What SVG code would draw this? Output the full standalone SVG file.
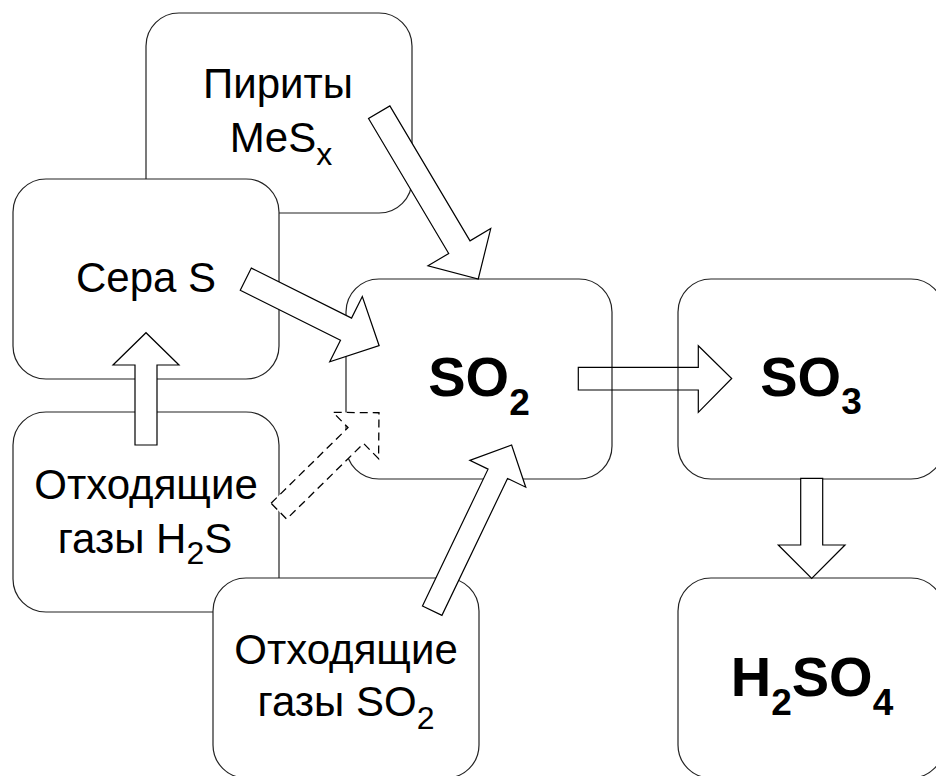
<svg xmlns="http://www.w3.org/2000/svg" width="936" height="776" viewBox="0 0 936 776">
<style>
.box{fill:#fff;stroke:#222;stroke-width:1.2}
.t{font-family:"Liberation Sans",Arial,sans-serif;font-size:42px;fill:#000;text-anchor:middle}
.b{font-family:"Liberation Sans",Arial,sans-serif;font-size:56px;font-weight:bold;fill:#000;text-anchor:middle}
.s{font-size:32px}
.sb{font-size:37px}
.arr{fill:#fff;stroke:#000;stroke-width:1.2;stroke-linejoin:miter}
.arrn{fill:none;stroke:#000;stroke-width:1.2}
.dash{fill:#fff;stroke:#000;stroke-width:1.3;stroke-dasharray:8,5}
</style>
<rect width="936" height="776" fill="#fff"/>
<g id="pyrite">
<rect class="box" x="146" y="13" width="266" height="200" rx="33"/>
<text class="t" x="278" y="98">Пириты</text>
<text class="t" x="281" y="152">MeS<tspan class="s" dy="13">x</tspan></text>
</g>
<g id="sulfur">
<rect class="box" x="13" y="179" width="266" height="200" rx="33"/>
<text class="t" x="146" y="292">Сера S</text>
</g>
<g id="h2s">
<rect class="box" x="13" y="412" width="266" height="200" rx="33"/>
<text class="t" x="146" y="499">Отходящие</text>
<text class="t" x="145" y="553">газы H<tspan class="s" dy="11">2</tspan><tspan dy="-11">S</tspan></text>
</g>
<g id="so2gas">
<rect class="box" x="213" y="578" width="266" height="200" rx="33"/>
<text class="t" x="346" y="664">Отходящие</text>
<text class="t" x="346" y="716">газы SO<tspan class="s" dy="13">2</tspan></text>
</g>
<g id="so2">
<rect class="box" x="346" y="279" width="266" height="200" rx="33"/>
<text class="b" x="479" y="396">SO<tspan class="sb" dy="19">2</tspan></text>
</g>
<g id="so3">
<rect class="box" x="678" y="279" width="266" height="200" rx="33"/>
<text class="b" x="811" y="396">SO<tspan class="sb" dy="18">3</tspan></text>
</g>
<g id="h2so4">
<rect class="box" x="678" y="578" width="266" height="200" rx="33"/>
<text class="b" x="812" y="696">H<tspan class="sb" dy="19">2</tspan><tspan dy="-19">SO</tspan><tspan class="sb" dy="19">4</tspan></text>
</g>
<g id="connectors">
<polygon class="arr" transform="translate(379.2,112.2) rotate(59.3)" points="0,-12.4 157,-12.4 157,-36.5 194,0 157,36.5 157,12.4 0,12.4"/>
<polygon class="arr" transform="translate(245.8,279.2) rotate(26.5)" points="0,-12.4 112,-12.4 112,-36.5 149,0 112,36.5 112,12.4 0,12.4"/>
<polygon class="arr" points="135,445 135,365 113,365 146,332.7 179,365 157,365 157,445"/>
<polygon class="arrn" points="578.3,367.3 698.3,367.3 698.3,345.7 731.7,378.5 698.3,412.3 698.3,390 578.3,390"/>
<polygon class="arr" points="800.7,478.3 800.7,545 778.3,545 811.7,578.3 845,545 822.7,545 822.7,478.3"/>
<polygon class="arr" transform="translate(432.2,610.7) rotate(-64.4)" points="0,-10.8 151.8,-10.8 151.8,-31 183.8,0 151.8,31 151.8,10.8 0,10.8"/>
<polygon class="dash" transform="translate(278.85,511.15) rotate(-44.5)" points="0,-11.1 107.9,-11.1 107.9,-32.5 140.4,0 107.9,32.5 107.9,11.1 0,11.1"/>
</g>
</svg>
